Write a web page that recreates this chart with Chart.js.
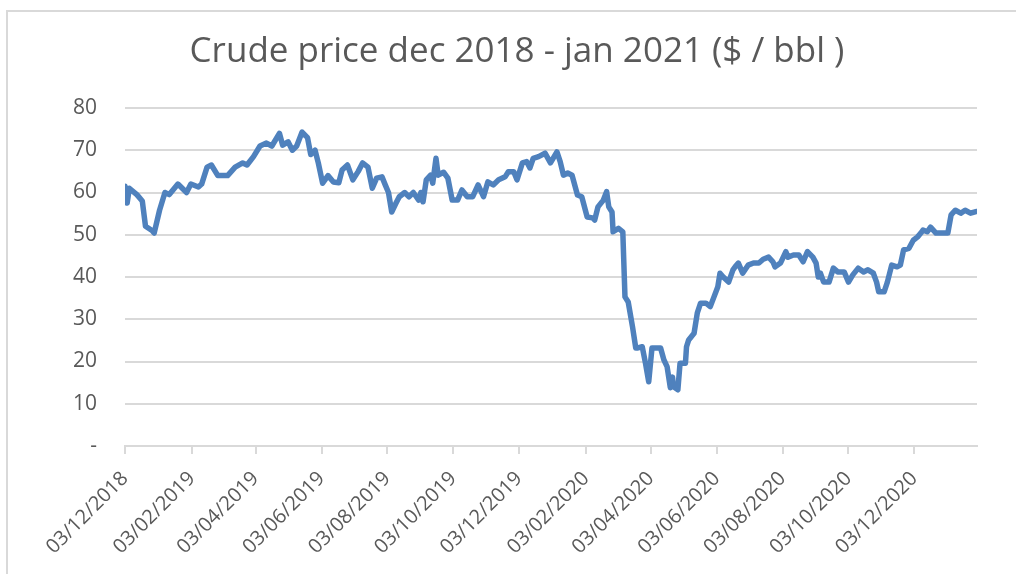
<!DOCTYPE html>
<html>
<head>
<meta charset="utf-8">
<title>Crude price</title>
<script src="https://cdn.jsdelivr.net/npm/chart.js@4.4.1/dist/chart.umd.min.js"></script>
<style>
  html, body { margin: 0; padding: 0; background: #fff; overflow: hidden; }
  #wrap { position: relative; width: 1016px; height: 574px; }
  #frame { position: absolute; left: 6px; top: 10px; width: 1100px; height: 700px;
           border-top: 2px solid #d9d9d9; border-left: 2px solid #d9d9d9; pointer-events: none; }
</style>
</head>
<body>
<div id="wrap">
  <canvas id="crudeChart"></canvas>
  <div id="frame"></div>
</div>
<script>
// days counted from 03/12/2018
const startDate = '2018-12-03';
const days = [0, 2, 4, 11, 16, 19, 25, 27, 32, 37, 41, 49, 57, 61, 68, 71, 76, 80, 86, 95,
  102, 109, 113, 119, 125, 131, 136, 143, 146, 151, 155, 159, 164, 169, 172, 176, 179, 183, 188, 193,
  198, 201, 206, 211, 216, 220, 225, 229, 233, 238, 241, 244, 247, 251, 254, 259, 263, 267, 272, 274,
  276, 279, 283, 285, 288, 290, 295, 299, 303, 308, 312, 317, 322, 327, 332, 336, 341, 346, 352, 355,
  360, 363, 368, 372, 375, 378, 383, 389, 394, 400, 403, 406, 410, 414, 419, 423, 428, 433, 435, 438,
  443, 446, 448, 451, 452, 457, 461, 463, 466, 470, 473, 475, 479, 482, 485, 488, 493, 496, 499, 502,
  505, 507, 508, 512, 514, 519, 520, 522, 527, 530, 533, 538, 542, 545, 549, 551, 554, 559, 563, 565,
  568, 572, 577, 582, 587, 591, 596, 600, 602, 607, 612, 614, 619, 624, 628, 632, 637, 640, 642, 644,
  647, 652, 656, 660, 666, 670, 674, 679, 684, 688, 693, 696, 698, 703, 706, 710, 715, 718, 721, 726,
  730, 734, 737, 739, 743, 746, 751, 755, 762, 765, 769, 774, 778, 783, 788];

const prices = [61.5, 57.5, 61, 59.5, 58, 52, 51, 50.4, 55.8, 60, 59.5, 62, 60, 62, 61.3, 62, 66, 66.5, 64, 64,
  66, 67, 66.5, 68.5, 71, 71.7, 71, 74, 71.2, 72, 70, 71, 74.3, 73, 69, 70, 67, 62.2, 64, 62.5,
  62.3, 65.3, 66.5, 63, 65, 67, 66, 61, 63.4, 63.7, 61.8, 60, 55.4, 57.5, 59, 60, 59, 60, 58.2, 60,
  57.8, 63, 64.1, 62.2, 68.1, 64.1, 64.8, 63.4, 58.2, 58.2, 60.6, 59, 59, 61.8, 59, 62.5, 61.8, 63, 63.7, 64.9,
  64.9, 63, 67, 67.3, 65.8, 68.1, 68.5, 69.3, 67, 69.6, 67.3, 64.1, 64.6, 64.1, 59.4, 59, 54.2, 54, 53.5, 56.6,
  58.2, 60.2, 56.6, 55.4, 50.7, 51.5, 50.7, 35.3, 34.1, 28.2, 23.2, 23.2, 23.5, 19.6, 15.2, 23.2, 23.2, 23.2, 20.4, 18.8,
  13.8, 16.3, 14, 13.3, 19.6, 19.6, 23.5, 25.1, 26.7, 31.5, 33.8, 33.8, 33, 35, 37.7, 40.9, 40, 38.8, 41.7, 42.4,
  43.3, 40.9, 42.8, 43.3, 43.3, 44.2, 44.7, 43.6, 42.4, 43.3, 46, 44.7, 45.2, 45.2, 43.6, 46, 44.7, 43.3, 40, 40.9,
  38.8, 38.8, 42.1, 41.2, 41.2, 38.8, 40.5, 42.1, 41.2, 41.7, 40.9, 38.8, 36.5, 36.5, 38.8, 42.8, 42.4, 42.8, 46.4, 46.8,
  48.7, 49.5, 50.4, 51.1, 50.7, 51.8, 50.4, 50.4, 50.4, 54.7, 55.8, 55.1, 55.8, 55.1, 55.5];

const tickLabels = ['03/12/2018', '03/02/2019', '03/04/2019', '03/06/2019', '03/08/2019', '03/10/2019',
  '03/12/2019', '03/02/2020', '03/04/2020', '03/06/2020', '03/08/2020', '03/10/2020', '03/12/2020'];
const lastDay = 789;

const DAY = 86400000;
const toDay = (label) => {
  const [d, m, y] = label.split('/').map(Number);
  return Math.round((Date.UTC(y, m - 1, d) - Date.parse(startDate)) / DAY);
};
const tickDays = tickLabels.map(toDay);

const textColor = '#595959';
const gridColor = '#d9d9d9';

new Chart(document.getElementById('crudeChart'), {
  type: 'line',
  data: {
    datasets: [{
      data: days.map((d, i) => ({ x: d, y: prices[i] })),
      borderColor: '#4f81bd',
      borderWidth: 5.5,
      borderJoinStyle: 'round',
      borderCapStyle: 'round',
      pointRadius: 0,
      tension: 0,
      fill: false,
    }],
  },
  options: {
    responsive: true,
    maintainAspectRatio: false,
    animation: false,
    layout: { padding: { left: 57, right: 39, top: 0, bottom: 0 } },
    plugins: {
      legend: { display: false },
      tooltip: { enabled: false },
      title: {
        display: true,
        text: 'Crude price dec 2018 - jan 2021 ($ / bbl )',
        color: textColor,
        font: { family: 'Open Sans', size: 35, weight: 'normal' },
        padding: { top: 31, bottom: 35 },
      },
    },
    scales: {
      x: {
        type: 'linear',
        min: 0,
        max: lastDay,
        afterBuildTicks: (scale) => {
          scale.ticks = tickDays.map((v) => ({ value: v }));
        },
        afterFit: (scale) => { scale.height = 128; },
        grid: { drawOnChartArea: false, drawTicks: true, tickLength: 8, color: gridColor, lineWidth: 2 },
        border: { display: true, color: gridColor, width: 2 },
        ticks: {
          autoSkip: false,
          minRotation: 45,
          maxRotation: 45,
          padding: 13,
          color: textColor,
          font: { family: 'Open Sans', size: 20 },
          callback: (value, index) => tickLabels[index],
        },
      },
      y: {
        min: 0,
        max: 80,
        afterFit: (scale) => { scale.width = 68; },
        grid: { color: gridColor, lineWidth: 2, drawTicks: false },
        border: { display: false },
        ticks: {
          stepSize: 10,
          padding: 28,
          color: textColor,
          font: { family: 'Open Sans', size: 21 },
          callback: (value) => (value === 0 ? '-' : value),
        },
      },
    },
  },
});
</script>
</body>
</html>
